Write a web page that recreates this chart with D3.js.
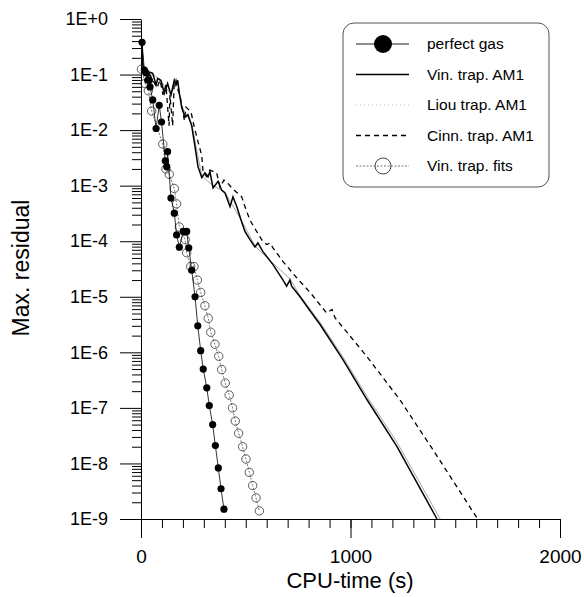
<!DOCTYPE html>
<html lang="en">
  <head>
    <meta charset="utf-8">
    <title>Max. residual</title>
    <script type="text/javascript" src="https://d3js.org/d3.v7.min.js"></script>
    <style>
      body { margin: 0; background: #fff; }
      text { font-family: "Liberation Sans", Arial, sans-serif; fill: #000; }
    </style>
  </head>
  <body>
    <script type="text/javascript">
    // values: [CPU-time (s), max. residual]
    var perfectGas = [
      [5, 3.8e-1], [16, 1.2e-1], [24, 1.07e-1], [32, 7.9e-2], [40, 7.9e-2], [43, 6.0e-2],
      [56, 3.5e-2], [72, 1.07e-2], [87, 2.8e-2], [98, 1.4e-2], [116, 2.8e-3], [123, 2.2e-3],
      [127, 4.1e-3], [143, 6.0e-4], [159, 3.2e-4], [170, 1.3e-4], [183, 7.8e-5], [202, 1.5e-4],
      [218, 1.5e-4], [228, 7.6e-5], [242, 3.0e-5], [258, 1.0e-5], [271, 3.0e-6], [285, 1.07e-6],
      [297, 5.0e-7], [314, 2.3e-7], [326, 1.1e-7], [342, 5.0e-8], [355, 2.1e-8], [369, 8.3e-9],
      [382, 3.5e-9], [396, 1.5e-9]
    ];
    var vinTrap = [
      [5, 3.4e-1], [8, 1.4e-1], [19, 1.1e-1], [32, 9.1e-2], [43, 1.1e-1], [56, 1.05e-1],
      [72, 6.5e-2], [80, 8.5e-2], [95, 7.9e-2], [111, 4.6e-2], [127, 6.9e-2], [143, 4.3e-2],
      [159, 7.9e-2], [167, 6.5e-2], [175, 7.9e-2], [183, 4.6e-2], [194, 2.6e-2], [210, 1.7e-2],
      [224, 1.9e-2], [242, 1.2e-2], [258, 5.0e-3], [272, 2.2e-3], [290, 1.4e-3], [305, 1.7e-3],
      [320, 1.45e-3], [329, 1.8e-3], [344, 9.1e-4], [368, 1.2e-3], [385, 8.3e-4], [401, 7.4e-4],
      [425, 4.2e-4], [439, 6.3e-4], [457, 4.2e-4], [481, 2.2e-4], [496, 1.5e-4], [520, 1.07e-4],
      [544, 7.9e-5], [558, 9.3e-5], [582, 6.5e-5], [630, 3.8e-5], [678, 2.0e-5], [695, 1.55e-5],
      [711, 2.0e-5], [719, 1.55e-5], [759, 1.0e-5], [831, 4.2e-6], [854, 3.2e-6], [964, 7.4e-7],
      [1079, 1.4e-7], [1222, 2.0e-8], [1413, 1.0e-9]
    ];
    var liouTrap = [
      [5, 3.4e-1], [10, 1.3e-1], [30, 9.5e-2], [60, 1.0e-1], [95, 7.5e-2], [143, 4.5e-2],
      [175, 7.5e-2], [194, 2.7e-2], [242, 1.3e-2], [290, 1.5e-3], [344, 1.0e-3], [401, 7.6e-4],
      [481, 2.3e-4], [544, 8.2e-5], [630, 4.0e-5], [711, 2.1e-5], [759, 1.05e-5], [854, 3.5e-6],
      [964, 8.2e-7], [1079, 1.6e-7], [1222, 2.4e-8], [1428, 1.0e-9]
    ];
    var cinnTrap = [
      [5, 3.4e-1], [10, 1.2e-1], [29, 8.7e-2], [43, 9.8e-2], [57, 7.9e-2], [76, 5.8e-2],
      [91, 7.9e-2], [105, 4.3e-2], [119, 6.5e-2], [134, 1.2e-2], [138, 4.3e-2], [151, 1.2e-2],
      [158, 6.5e-2], [167, 7.9e-2], [177, 5.2e-2], [186, 4.3e-2], [207, 1.5e-2], [215, 2.6e-2],
      [239, 2.1e-2], [254, 1.15e-2], [272, 6.2e-3], [290, 3.5e-3], [296, 1.8e-3], [314, 1.45e-3],
      [329, 1.9e-3], [361, 1.7e-3], [377, 9.5e-4], [396, 1.26e-3], [415, 1.1e-3], [433, 9.1e-4],
      [453, 7.8e-4], [481, 6.3e-4], [496, 4.2e-4], [520, 2.4e-4], [552, 1.5e-4], [582, 9.8e-5],
      [601, 8.7e-5], [616, 9.3e-5], [630, 7.6e-5], [678, 4.3e-5], [743, 2.2e-5], [807, 1.2e-5],
      [886, 5.1e-6], [912, 5.9e-6], [926, 4.2e-6], [1077, 8.5e-7], [1236, 1.4e-7], [1388, 1.9e-8],
      [1602, 1.07e-9]
    ];
    var vinFits = [
      [2, 1.25e-1], [19, 6.9e-2], [35, 5.1e-2], [51, 2.2e-2], [104, 5.6e-3], [119, 2.0e-3],
      [135, 1.6e-3], [159, 8.9e-4], [170, 4.7e-4], [183, 1.8e-4], [211, 1.07e-4], [218, 6.2e-5],
      [237, 3.5e-5], [253, 3.5e-5], [269, 2.0e-5], [285, 1.2e-5], [305, 6.9e-6], [321, 4.1e-6],
      [333, 2.3e-6], [353, 1.4e-6], [371, 8.5e-7], [385, 4.9e-7], [402, 2.8e-7], [421, 1.7e-7],
      [437, 1.0e-7], [450, 5.8e-8], [466, 3.5e-8], [485, 2.0e-8], [501, 1.2e-8], [517, 6.9e-9],
      [533, 4.0e-9], [549, 2.4e-9], [565, 1.4e-9]
    ];
    var yMajor = [1, 1e-1, 1e-2, 1e-3, 1e-4, 1e-5, 1e-6, 1e-7, 1e-8, 1e-9];
    var yLabels = ["1E+0", "1E-1", "1E-2", "1E-3", "1E-4", "1E-5", "1E-6", "1E-7", "1E-8", "1E-9"];
    var xMajor = [0, 1000, 2000];
    var legendNames = ["perfect gas", "Vin. trap. AM1", "Liou trap. AM1", "Cinn. trap. AM1", "Vin. trap. fits"];

    var w = 584, h = 597;
    var svg = d3.select("body").append("svg").attr("width", w).attr("height", h)

    var x = d3.scaleLinear().domain([0, 2000]).range([141, 560]);
    var y = d3.scaleLog().domain([1e-9, 1]).range([519, 19]);

    // axes
    var yMinor = y.ticks().filter(function(v) { return yMajor.indexOf(v) < 0 && Math.abs(Math.log10(v) % 1) > 1e-6; });
    svg.append("g").attr("transform", "translate(141,0)")
      .call(d3.axisLeft(y).tickValues(yMinor).tickSize(9).tickSizeOuter(0).tickFormat(""))
      .call(function(g) { g.select(".domain").remove(); });
    var yAxis = svg.append("g").attr("transform", "translate(141,0)")
      .call(d3.axisLeft(y).tickValues(yMajor).tickSize(21).tickSizeOuter(0).tickPadding(12)
        .tickFormat(function(d, i) { return yLabels[i]; }));
    yAxis.selectAll("text").style("font-size", "18px").style("font-family", "Liberation Sans, Arial");

    svg.append("g").attr("transform", "translate(0,519)")
      .call(d3.axisBottom(x).tickValues(d3.range(0, 2001, 100)).tickSize(9).tickSizeOuter(0).tickFormat(""));
    var xAxis = svg.append("g").attr("transform", "translate(0,519)")
      .call(d3.axisBottom(x).tickValues(xMajor).tickSize(19).tickSizeOuter(0).tickPadding(12).tickFormat(d3.format("d")));
    xAxis.select(".domain").remove();
    xAxis.selectAll("text").style("font-size", "19px").style("font-family", "Liberation Sans, Arial");

    svg.append("text").attr("x", 350).attr("y", 588).attr("text-anchor", "middle")
      .style("font-size", "22px").text("CPU-time (s)");
    svg.append("text").attr("transform", "translate(29,268) rotate(-90)").attr("text-anchor", "middle")
      .style("font-size", "23px").text("Max. residual");

    // series
    var line = d3.line().x(function(d) { return x(d[0]); }).y(function(d) { return y(d[1]); });

    svg.append("path").datum(liouTrap).attr("d", line)
      .attr("fill", "none").attr("stroke", "#9a9a9a").attr("stroke-width", 0.9);
    svg.append("path").datum(cinnTrap).attr("d", line)
      .attr("fill", "none").attr("stroke", "#000").attr("stroke-width", 1.3).attr("stroke-dasharray", "5,4");
    svg.append("path").datum(vinTrap).attr("d", line)
      .attr("fill", "none").attr("stroke", "#000").attr("stroke-width", 1.5);

    svg.append("path").datum(vinFits).attr("d", line)
      .attr("fill", "none").attr("stroke", "#555").attr("stroke-width", 0.8).attr("stroke-dasharray", "2,1.5");
    svg.selectAll("circle.fit").data(vinFits).enter().append("circle").attr("class", "fit")
      .attr("cx", function(d) { return x(d[0]); })
      .attr("cy", function(d) { return y(d[1]); })
      .attr("r", 4.2).attr("fill", "none").attr("stroke", "#333").attr("stroke-width", 0.8);

    svg.append("path").datum(perfectGas).attr("d", line)
      .attr("fill", "none").attr("stroke", "#000").attr("stroke-width", 0.8);
    svg.selectAll("circle.gas").data(perfectGas).enter().append("circle").attr("class", "gas")
      .attr("cx", function(d) { return x(d[0]); })
      .attr("cy", function(d) { return y(d[1]); })
      .attr("r", 3.6).attr("fill", "#000");

    // legend
    var lg = svg.append("g");
    lg.append("rect").attr("x", 343).attr("y", 23).attr("width", 206).attr("height", 164)
      .attr("rx", 11).attr("fill", "#fff").attr("stroke", "#555").attr("stroke-width", 1);
    var styles = [
      {stroke: "#000", width: 0.9, dash: null},
      {stroke: "#000", width: 1.5, dash: null},
      {stroke: "#bbb", width: 0.9, dash: "1,3"},
      {stroke: "#000", width: 1.3, dash: "5,4"},
      {stroke: "#555", width: 0.8, dash: "2,1.5"}
    ];
    legendNames.forEach(function(name, i) {
      var ry = 44 + i * 30.5;
      var s = styles[i];
      lg.append("line").attr("x1", 356).attr("x2", 409).attr("y1", ry).attr("y2", ry)
        .attr("stroke", s.stroke).attr("stroke-width", s.width).attr("stroke-dasharray", s.dash);
      if (i == 0) lg.append("circle").attr("cx", 383).attr("cy", ry).attr("r", 9).attr("fill", "#000");
      if (i == 4) lg.append("circle").attr("cx", 383).attr("cy", ry).attr("r", 8)
        .attr("fill", "none").attr("stroke", "#333").attr("stroke-width", 0.9);
      lg.append("text").attr("x", 427).attr("y", ry).attr("dy", "0.35em")
        .style("font-size", "15.5px").text(name);
    });
    </script>
  </body>
</html>
